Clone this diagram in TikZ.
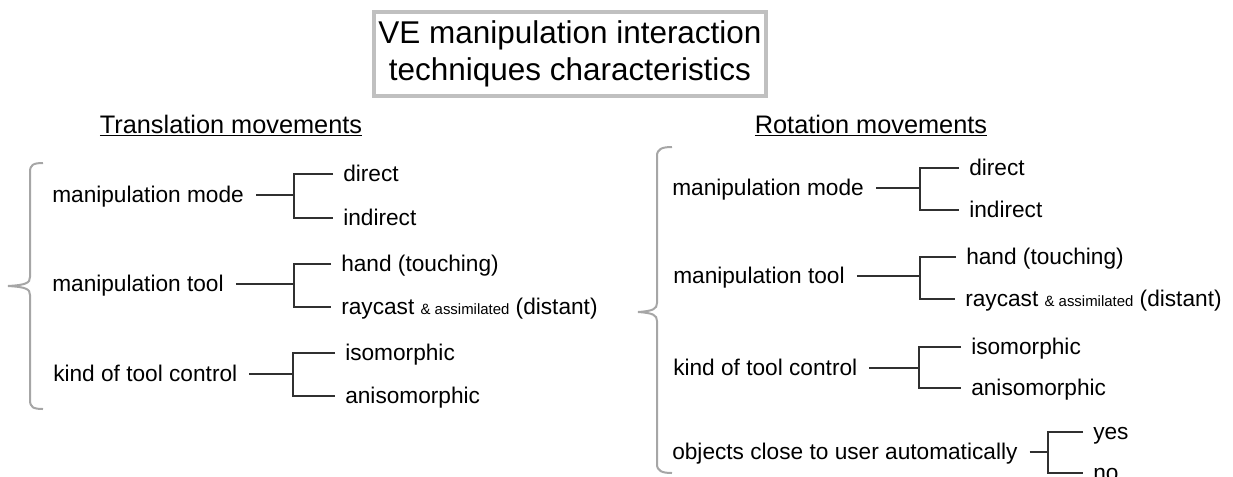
\documentclass[tikz,border=0pt]{standalone}
\usepackage{fontspec}
\setmainfont{Liberation Sans}
\definecolor{bracegray}{HTML}{A6A6A6}
\definecolor{boxgray}{HTML}{C0C0C0}
\definecolor{linecol}{HTML}{303030}
\newcommand\mybranch[4]{%
  \coordinate (#1-j) at (#2,0);
  \draw[conn] ([xshift=9pt]#1.east) -- (#1.east -| #1-j);
  \draw[conn] ([xshift=-7.5pt]#3.west) -| (#1-j |- #1.east) |- ([xshift=-7.5pt]#4.west);
}
\begin{document}
\begin{tikzpicture}[x=0.75pt,y=-0.75pt,
  item/.style={anchor=west,inner sep=0pt,font=\fontsize{17}{20}\selectfont,text height=14pt,text depth=3pt},
  conn/.style={draw=linecol,line width=0.8pt},
  bracestyle/.style={draw=bracegray,line width=1.5pt},
  heading/.style={anchor=base,inner sep=0pt,font=\fontsize{19}{22}\selectfont}]
\useasboundingbox (0,0) rectangle (1233,476);

% title
\node[draw=boxgray,line width=3pt,minimum width=294pt,minimum height=63pt,align=center,
      font=\fontsize{23.6}{27.8}\selectfont,inner sep=0pt] (title) at (570,54)
      {VE manipulation interaction\\techniques characteristics};

% headings
\node[heading] (hT) at (231,133) {\underline{Translation movements}};
\node[heading] (hR) at (871,133) {\underline{Rotation movements}};

% left brace
\draw[bracestyle] (43,163) .. controls (33,163) and (30,165) .. (30,172) -- (30,277)
   .. controls (30,283) and (26,285) .. (8,286) .. controls (26,287) and (30,289) .. (30,295)
   -- (30,400) .. controls (30,407) and (33,409) .. (43,409);

% right brace
\draw[bracestyle] (672,147) .. controls (662,147) and (657,149) .. (657,156) -- (657,303)
   .. controls (657,309) and (653,311) .. (638,312) .. controls (653,313) and (657,315) .. (657,321)
   -- (657,464) .. controls (657,471) and (662,473) .. (672,473);

% left items
\node[item] (lpm) at (52,195) {manipulation mode};
\node[item] (ldir) at (343,174) {direct};
\node[item] (lind) at (343,218) {indirect};
\node[item] (lpt) at (52,284) {manipulation tool};
\node[item] (lhand) at (341,264) {hand (touching)};
\node[item] (lray) at (341,307) {raycast {\fontsize{11.2}{13}\selectfont\&~assimilated} (distant)};
\node[item] (lkc) at (53,374) {kind of tool control};
\node[item] (liso) at (345,353) {isomorphic};
\node[item] (laniso) at (345,396) {anisomorphic};

\mybranch{lpm}{294}{ldir}{lind}
\mybranch{lpt}{294}{lhand}{lray}
\mybranch{lkc}{293}{liso}{laniso}

% right items
\node[item] (rpm) at (672,188) {manipulation mode};
\node[item] (rdir) at (969,168) {direct};
\node[item] (rind) at (969,210) {indirect};
\node[item] (rpt) at (673,276) {manipulation tool};
\node[item] (rhand) at (966,257) {hand (touching)};
\node[item] (rray) at (965,299) {raycast {\fontsize{11.2}{13}\selectfont\&~assimilated} (distant)};
\node[item] (rkc) at (673,368) {kind of tool control};
\node[item] (riso) at (971,347) {isomorphic};
\node[item] (raniso) at (971,388) {anisomorphic};
\node[item] (robj) at (672,452) {objects close to user automatically};
\node[item] (ryes) at (1093,432) {yes};
\node[item] (rno) at (1093,473) {no};

\mybranch{rpm}{920}{rdir}{rind}
\mybranch{rpt}{920}{rhand}{rray}
\mybranch{rkc}{919}{riso}{raniso}
\mybranch{robj}{1048}{ryes}{rno}
\end{tikzpicture}
\end{document}
